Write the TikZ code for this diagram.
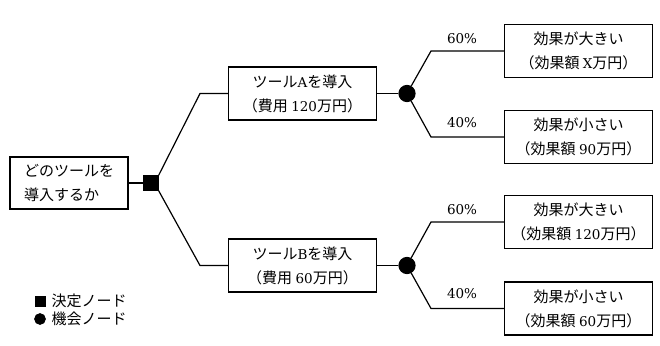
\documentclass[tikz,border=0pt]{standalone}
\usepackage{fontspec}
\setmainfont[Scale=0.9]{DejaVu Serif}
\newfontfamily\cjk{Noto Sans CJK JP}
\newcommand\latn[1]{{\rmfamily #1}}
\begin{document}
\begin{tikzpicture}[x=1pt,y=-1pt,line width=1.2pt,
  box/.style={draw,line width=1.2pt,minimum width=148pt,minimum height=53pt,
    align=center,inner sep=0pt,font=\fontsize{15}{24}\selectfont\cjk},
  decnode/.style={draw,fill=black,rectangle,minimum size=14pt,inner sep=0pt},
  chance/.style={draw,fill=black,circle,minimum size=16pt,inner sep=0pt},
  pct/.style={font=\fontsize{15}{18}\selectfont\rmfamily,inner sep=0pt},
  legtext/.style={anchor=west,inner sep=0pt,font=\fontsize{15}{18}\selectfont\cjk}]
\useasboundingbox[fill=white] (0,0) rectangle (660,345);
% nodes
\node[box,minimum width=118pt,minimum height=52pt,align=left] (root) at (69,183) {どのツールを\\導入するか};
\node[decnode] (dec) at (151,183) {};
\node[box] (A) at (302.5,93.5) {ツール\latn{A}を導入\\（費用 \latn{120}万円）};
\node[box] (B) at (302.5,265.5) {ツール\latn{B}を導入\\（費用 \latn{60}万円）};
\node[chance] (cA) at (407,93.5) {};
\node[chance] (cB) at (407,265.5) {};
\node[box] (o1) at (578.5,51) {効果が大きい\\（効果額 \latn{X}万円）};
\node[box] (o2) at (578.5,137) {効果が小さい\\（効果額 \latn{90}万円）};
\node[box] (o3) at (578.5,222) {効果が大きい\\（効果額 \latn{120}万円）};
\node[box] (o4) at (578.5,308.5) {効果が小さい\\（効果額 \latn{60}万円）};
% bend points
\coordinate (kA) at (200,93.5);
\coordinate (kB) at (200,265.5);
\coordinate (k1) at (431,51);
\coordinate (k2) at (431,137);
\coordinate (k3) at (431,222);
\coordinate (k4) at (431,308.5);
% connectors
\draw (root.east) -- (dec.west);
\draw (dec.north east) -- (kA) -- (A.west);
\draw (dec.south east) -- (kB) -- (B.west);
\draw (A.east) -- (cA);
\draw (B.east) -- (cB);
\draw (cA) -- (k1) -- (o1.west);
\draw (cA) -- (k2) -- (o2.west);
\draw (cB) -- (k3) -- (o3.west);
\draw (cB) -- (k4) -- (o4.west);
% probabilities
\node[pct] (p1) at (462,39) {60\%};
\node[pct] (p2) at (462,123) {40\%};
\node[pct] (p3) at (462,210) {60\%};
\node[pct] (p4) at (462,294) {40\%};
% legend
\node[draw,fill=black,rectangle,minimum size=10pt,inner sep=0pt,line width=0.6pt] (lsq) at (40,301) {};
\node[legtext] (lt1) at (51,301) {決定ノード};
\node[draw,fill=black,circle,minimum size=11pt,inner sep=0pt,line width=0.6pt] (lci) at (40,319) {};
\node[legtext] (lt2) at (51,319) {機会ノード};
\end{tikzpicture}
\end{document}
